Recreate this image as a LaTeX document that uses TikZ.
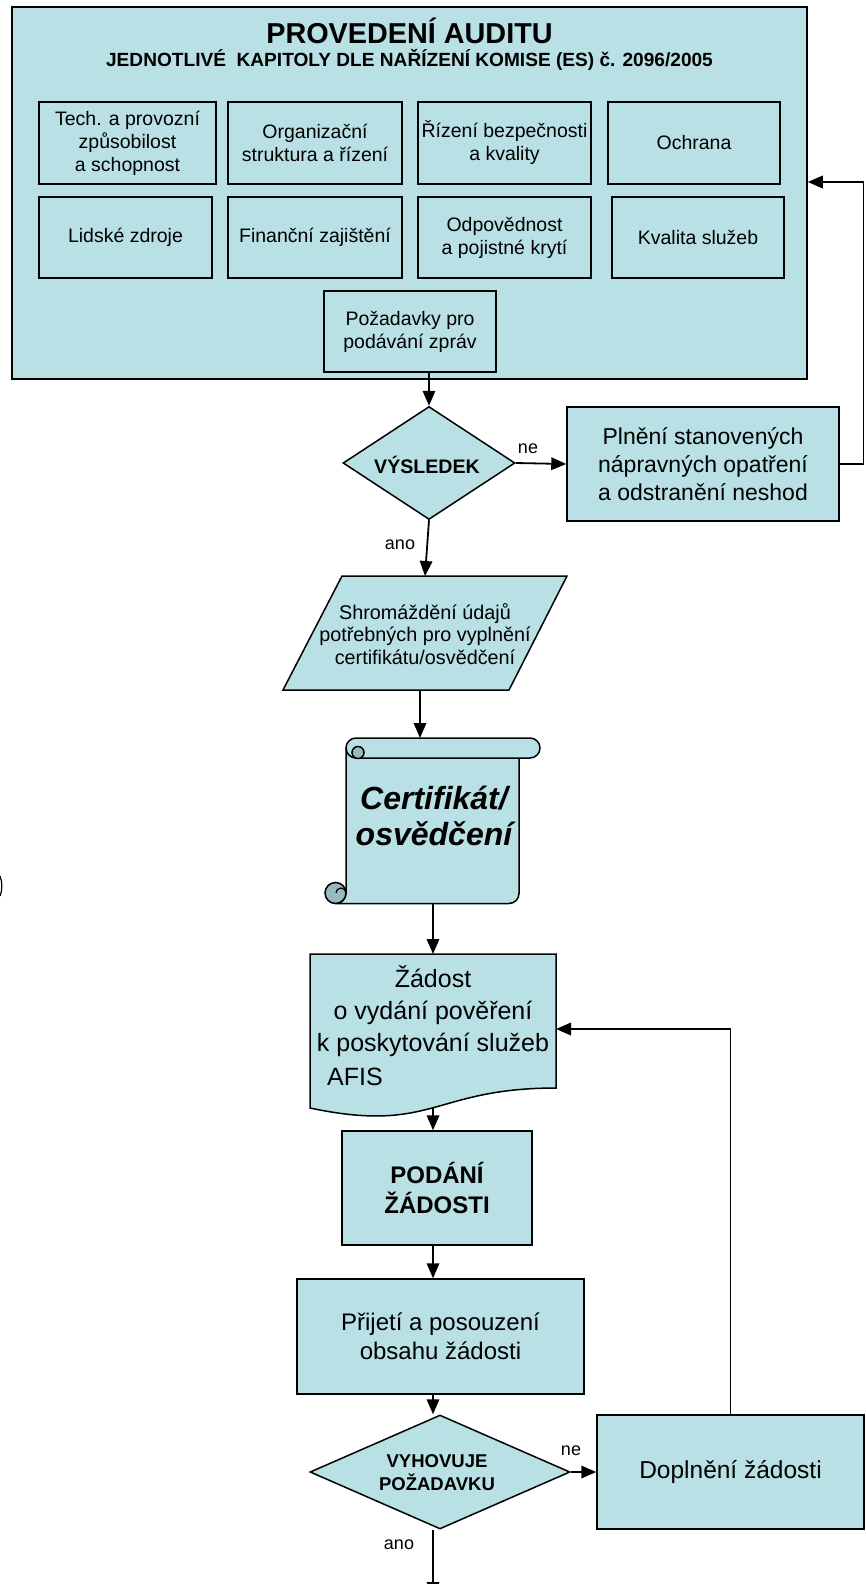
\documentclass[tikz,border=0pt]{standalone}
\usepackage{fontspec}
\setmainfont{Liberation Sans}
\usetikzlibrary{arrows.meta,shapes.geometric,calc}
\definecolor{tealfill}{RGB}{185,224,228}
\definecolor{curlfill}{RGB}{150,186,190}
\newcommand\fsz[2]{\fontsize{#1}{#2}\selectfont}
\begin{document}
\begin{tikzpicture}[x=1pt,y=-1pt,line join=miter,
  box/.style={draw, fill=tealfill, line width=1.5pt, inner sep=0pt, align=center, font=\fsz{19.5}{23}},
  bigbox/.style={box, font=\fsz{24}{29}},
  dia/.style={diamond, draw, fill=tealfill, line width=1.5pt, inner sep=0pt},
  shp/.style={draw, fill=tealfill, line width=1.5pt},
  arr/.style={line width=1.8pt, -{Triangle[length=15pt,width=12.5pt]}},
  lbl/.style={font=\fsz{18}{21}, inner sep=0pt},
  txt/.style={inner sep=0pt, align=center}]
\useasboundingbox (0,0) rectangle (865,1584);

% outer audit box
\node[box, minimum width=795pt, minimum height=372pt] (outer) at (409.5,193) {};
\node[txt, anchor=base, font=\fsz{28.8}{32}\bfseries] (title) at (409.5,44) {PROVEDENÍ AUDITU};
\node[txt, anchor=base, font=\fsz{19.1}{22}\bfseries] (subtitle) at (409.5,67) {JEDNOTLIVÉ~ KAPITOLY DLE NAŘÍZENÍ KOMISE (ES) č. 2096/2005};

\node[box, minimum width=177pt, minimum height=82pt] (b1) at (127.5,143) {Tech. a provozní\\způsobilost\\a schopnost};
\node[box, minimum width=174pt, minimum height=82pt] (b2) at (315,143) {Organizační\\struktura a řízení};
\node[box, minimum width=173pt, minimum height=82pt] (b3) at (504.5,143) {Řízení bezpečnosti\\a kvality};
\node[box, minimum width=172pt, minimum height=82pt] (b4) at (694,143) {Ochrana};
\node[box, minimum width=173pt, minimum height=81pt] (b5) at (125.5,237.5) {Lidské zdroje};
\node[box, minimum width=174pt, minimum height=81pt] (b6) at (315,237.5) {Finanční zajištění};
\node[box, minimum width=173pt, minimum height=81pt] (b7) at (504.5,237.5) {Odpovědnost\\a pojistné krytí};
\node[box, minimum width=172pt, minimum height=81pt] (b8) at (698,237.5) {Kvalita služeb};
\node[box, minimum width=172pt, minimum height=81pt] (b9) at (410,331.5) {Požadavky pro\\podávání zpráv};

% decision 1
\node[dia, minimum width=172pt, minimum height=113pt] (d1) at (429,463) {};
\node[txt, font=\fsz{19.6}{22}\bfseries] (d1t) at (427,465) {VÝSLEDEK};
\node[box, minimum width=272pt, minimum height=114pt, font=\fsz{23}{28}] (plneni) at (703,464) {Plnění stanovených\\nápravných opatření\\a odstranění neshod};
\node[lbl] (ne1) at (528,449) {ne};
\node[lbl] (ano1) at (400,545) {ano};

% parallelogram
\draw[shp] (342,576) -- (567,576) -- (509,690) -- (283,690) -- cycle;
\node[txt, font=\fsz{19.8}{22.5}] (para) at (425,634) {Shromáždění údajů\\potřebných pro vyplnění\\certifikátu/osvědčení};
\coordinate (paraTop) at (425,576);
\coordinate (paraBot) at (420,690);

% scroll
\draw[shp] (346,748) -- (346,893) arc[start angle=0,end angle=-90,radius=10.5pt] -- (509,903.5) arc[start angle=-90,end angle=0,radius=10pt] -- (519,748) -- cycle;
\draw[shp] (356,738) -- (530,738) arc[start angle=90,end angle=-90,radius=10pt] -- (356,758) arc[start angle=-90,end angle=-270,radius=10pt] -- cycle;
\draw[line width=1.5pt, fill=curlfill] (358,752.5) circle[radius=6pt];
\draw[line width=1.5pt, fill=curlfill] (335.5,893) circle[radius=10.5pt];
\draw[line width=1.2pt] (336,893) arc[start angle=180,end angle=0,radius=5pt];
\node[txt, font=\fsz{32}{36}\bfseries\itshape] (cert) at (434,816) {Certifikát/\\osvědčení};
\coordinate (scrollTop) at (420,738);
\coordinate (scrollBot) at (433,903);

% document
\draw[shp] (310,954) -- (556,954) -- (556,1088) .. controls (433,1088) and (433,1134) .. (310,1108) -- cycle;
\node[txt, font=\fsz{25}{32}] (doct) at (433,1011) {Žádost\\o vydání pověření\\k poskytování služeb};
\node[txt, anchor=west, font=\fsz{25}{30}] (afis) at (327,1077) {AFIS};
\coordinate (docTop) at (433,954);
\coordinate (docBot) at (433,1108);
\coordinate (docRight) at (556,1029);

% lower boxes
\node[bigbox, minimum width=190pt, minimum height=114pt, font=\fsz{24}{30}\bfseries] (pod) at (437,1188) {PODÁNÍ\\ŽÁDOSTI};
\node[bigbox, minimum width=287pt, minimum height=115pt] (prij) at (440.5,1336.5) {Přijetí a posouzení\\obsahu žádosti};
\node[dia, minimum width=260pt, minimum height=114pt] (d2) at (440,1472) {};
\node[txt, font=\fsz{18.5}{23}\bfseries] (d2t) at (437,1473) {VYHOVUJE\\POŽADAVKU};
\node[bigbox, minimum width=267pt, minimum height=114pt, font=\fsz{24.5}{29}] (dopl) at (730.5,1472) {Doplnění žádosti};
\node[lbl] (ne2) at (571,1451) {ne};
\node[lbl] (ano2) at (399,1545) {ano};
\coordinate (endpt) at (433,1597);

% connectors
\draw[arr] (b9.south -| d1.north) -- (d1.north);
\draw[arr] (d1.east) -- (plneni.west);
\coordinate (fbc) at (863.5,182);
\draw[arr] (plneni.east) -| (fbc) -- (fbc -| outer.east);
\draw[arr] (d1.south) -- (paraTop);
\draw[arr] (paraBot) -- (scrollTop);
\draw[arr] (scrollBot) -- (docTop);
\draw[arr] (docBot) -- (docBot |- pod.north);
\draw[arr] (pod.south -| docBot) -- (docBot |- prij.north);
\draw[arr] (prij.south -| docBot) -- (docBot |- d2.north);
\draw[arr] (d2.east) -- (dopl.west);
\draw[arr] (dopl.north) |- (docRight);
\draw[arr] (d2.south -| endpt) -- (endpt);

% stray mark at left edge
\draw[line width=1.2pt] (0,876) .. controls (2.5,882) and (2.5,890) .. (0,896);
\end{tikzpicture}
\end{document}
